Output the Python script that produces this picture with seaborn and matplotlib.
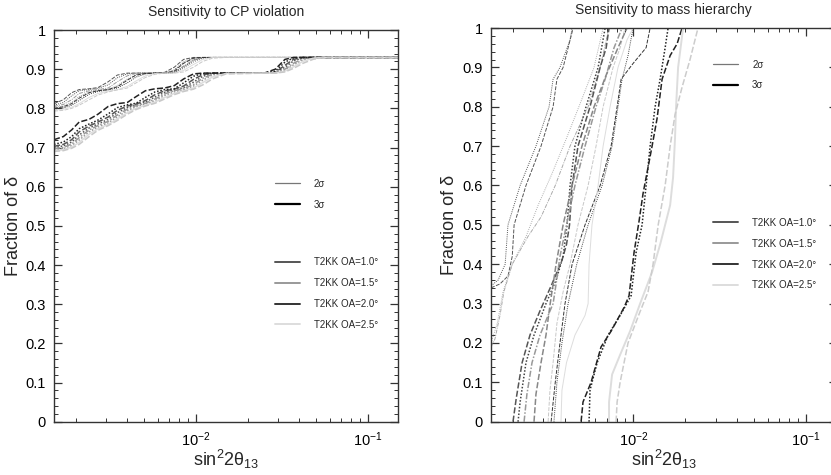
import matplotlib
matplotlib.use("Agg")
import matplotlib.pyplot as plt
import seaborn as sns
from matplotlib.lines import Line2D
from matplotlib.ticker import MultipleLocator, LogLocator, NullFormatter

# ---------------- data ----------------
oa_labels = ["T2KK OA=1.0\u00b0", "T2KK OA=1.5\u00b0", "T2KK OA=2.0\u00b0", "T2KK OA=2.5\u00b0"]
oa_colors = ["#555555", "#999999", "#333333", "#dddddd"]
sigma_labels = ["2\u03c3", "3\u03c3"]

# CP violation panel: shared sin^2 2theta13 grid
cp_x = [0.0015, 0.0017, 0.0019, 0.0021, 0.0024, 0.0027, 0.0031, 0.0035, 0.0040,
        0.0045, 0.0051, 0.0058, 0.0066, 0.0075, 0.0085, 0.0097, 0.011, 0.0125,
        0.015, 0.025, 0.029, 0.033, 0.037, 0.042, 0.048, 0.055, 0.15]

# 2 sigma curves (upper band)
cp_2s_oa10_a = [.812, .822, .840, .848, .850, .853, .868, .885, .890, .890, .890, .890, .892, .905,
                .925, .930, .930, .930, .930, .930, .930, .930, .930, .930, .930, .930, .930]
cp_2s_oa10_b = [.808, .815, .832, .845, .848, .851, .860, .878, .888, .890, .890, .890, .890, .898,
                .918, .929, .930, .930, .930, .930, .930, .930, .930, .930, .930, .930, .930]
cp_2s_oa15_a = [.805, .810, .822, .838, .845, .848, .852, .868, .883, .889, .890, .890, .890, .893,
                .908, .924, .930, .930, .930, .930, .930, .930, .930, .930, .930, .930, .930]
cp_2s_oa15_b = [.802, .806, .815, .830, .842, .846, .849, .858, .875, .886, .890, .890, .890, .891,
                .902, .918, .928, .930, .930, .930, .930, .930, .930, .930, .930, .930, .930]
cp_2s_oa20_a = [.800, .804, .812, .826, .840, .845, .848, .855, .872, .885, .889, .890, .890, .895,
                .915, .928, .930, .930, .930, .930, .930, .930, .930, .930, .930, .930, .930]
cp_2s_oa20_b = [.798, .801, .808, .820, .836, .843, .847, .852, .865, .880, .888, .890, .890, .892,
                .905, .922, .929, .930, .930, .930, .930, .930, .930, .930, .930, .930, .930]
cp_2s_oa25_a = [.795, .798, .803, .812, .828, .838, .844, .848, .856, .870, .883, .889, .890, .890,
                .897, .912, .925, .930, .930, .930, .930, .930, .930, .930, .930, .930, .930]
cp_2s_oa25_b = [.793, .795, .800, .808, .822, .834, .842, .847, .852, .865, .879, .887, .890, .890,
                .893, .905, .920, .928, .930, .930, .930, .930, .930, .930, .930, .930, .930]

# 3 sigma curves (lower band)
cp_3s_oa20_a = [.720, .728, .745, .765, .772, .785, .805, .812, .815, .830, .845, .850, .852, .858,
                .875, .888, .890, .890, .890, .890, .900, .925, .930, .930, .930, .930, .930]
cp_3s_oa20_b = [.708, .714, .728, .748, .760, .770, .786, .802, .809, .813, .828, .842, .848, .850,
                .865, .882, .889, .890, .890, .890, .895, .918, .929, .930, .930, .930, .930]
cp_3s_oa10_a = [.703, .708, .720, .740, .755, .765, .778, .795, .806, .811, .820, .835, .845, .849,
                .857, .874, .886, .890, .890, .890, .892, .910, .925, .930, .930, .930, .930]
cp_3s_oa10_b = [.700, .704, .714, .732, .750, .760, .772, .789, .802, .809, .816, .829, .841, .847,
                .853, .867, .882, .889, .890, .890, .891, .905, .921, .929, .930, .930, .930]
cp_3s_oa15_a = [.697, .700, .709, .725, .745, .756, .767, .783, .798, .807, .813, .824, .837, .845,
                .850, .861, .877, .887, .890, .890, .890, .900, .915, .927, .930, .930, .930]
cp_3s_oa15_b = [.694, .697, .705, .719, .740, .752, .763, .778, .794, .804, .811, .820, .833, .842,
                .848, .857, .872, .885, .890, .890, .890, .897, .911, .924, .929, .930, .930]
cp_3s_oa25_a = [.692, .694, .701, .713, .734, .748, .759, .773, .789, .800, .808, .816, .828, .838,
                .845, .852, .866, .880, .889, .890, .890, .895, .906, .920, .928, .930, .930]
cp_3s_oa25_b = [.690, .692, .698, .708, .728, .744, .756, .769, .785, .797, .806, .813, .824, .835,
                .843, .849, .860, .875, .888, .890, .890, .893, .902, .915, .925, .930, .930]

# mass hierarchy panel: each curve has its own (x, fraction) points
mh_2s_oa10_a_x = [0.00150, 0.00169, 0.00188, 0.00199, 0.00204, 0.00239, 0.00292, 0.00343, 0.00361, 0.00392, 0.00448]
mh_2s_oa10_a_y = [0.34, 0.35, 0.37, 0.42, 0.50, 0.60, 0.70, 0.80, 0.87, 0.90, 1.00]
mh_2s_oa10_b_x = [0.00150, 0.00165, 0.00181, 0.00188, 0.00221, 0.00273, 0.00325, 0.00343, 0.00376, 0.00430, 0.00442]
mh_2s_oa10_b_y = [0.345, 0.36, 0.40, 0.50, 0.60, 0.70, 0.80, 0.87, 0.90, 0.97, 1.00]
mh_2s_oa15_a_x = [0.00150, 0.00158, 0.00169, 0.00178, 0.00199, 0.00245, 0.00292, 0.00353, 0.00430, 0.00547, 0.00642, 0.00723]
mh_2s_oa15_a_y = [0.19, 0.21, 0.27, 0.33, 0.40, 0.47, 0.52, 0.60, 0.70, 0.80, 0.90, 1.00]
mh_2s_oa15_b_x = [0.00150, 0.00163, 0.00176, 0.00199, 0.00239, 0.00281, 0.00338, 0.00410, 0.00504, 0.00592, 0.00668]
mh_2s_oa15_b_y = [0.20, 0.25, 0.33, 0.40, 0.47, 0.55, 0.63, 0.72, 0.82, 0.90, 1.00]
mh_2s_oa20_a_x = [0.00334, 0.00353, 0.00376, 0.00402, 0.00442, 0.00525, 0.00642, 0.00743, 0.00805, 0.00849, 0.00996, 0.01185, 0.01250]
mh_2s_oa20_a_y = [0.00, 0.10, 0.20, 0.30, 0.40, 0.50, 0.60, 0.70, 0.80, 0.87, 0.91, 0.95, 1.00]
mh_2s_oa20_b_x = [0.00347, 0.00361, 0.00386, 0.00419, 0.00470, 0.00547, 0.00659, 0.00753, 0.00815, 0.00860, 0.00931, 0.00996]
mh_2s_oa20_b_y = [0.00, 0.10, 0.20, 0.30, 0.40, 0.50, 0.60, 0.70, 0.80, 0.87, 0.93, 1.00]
mh_2s_oa25_a_x = [0.00381, 0.00386, 0.00410, 0.00459, 0.00525, 0.00547, 0.00554, 0.00576, 0.00625, 0.00668, 0.00733, 0.00815, 0.00919, 0.00996]
mh_2s_oa25_a_y = [0.00, 0.08, 0.15, 0.22, 0.27, 0.30, 0.40, 0.50, 0.60, 0.70, 0.80, 0.90, 0.97, 1.00]
mh_2s_oa25_b_x = [0.00321, 0.00329, 0.00343, 0.00361, 0.00392, 0.00430, 0.00478, 0.00547, 0.00608, 0.00668, 0.00763, 0.00838, 0.00895]
mh_2s_oa25_b_y = [0.00, 0.08, 0.15, 0.25, 0.33, 0.40, 0.50, 0.60, 0.70, 0.80, 0.90, 0.95, 1.00]

mh_3s_oa10_a_x = [0.00201, 0.00210, 0.00227, 0.00252, 0.00287, 0.00338, 0.00386, 0.00410, 0.00427, 0.00442, 0.00478, 0.00561, 0.00642, 0.00696, 0.00723]
mh_3s_oa10_a_y = [0.00, 0.06, 0.15, 0.22, 0.28, 0.35, 0.41, 0.45, 0.50, 0.60, 0.70, 0.80, 0.90, 0.95, 1.00]
mh_3s_oa10_b_x = [0.00215, 0.00221, 0.00239, 0.00266, 0.00312, 0.00357, 0.00392, 0.00413, 0.00430, 0.00459, 0.00532, 0.00625, 0.00686]
mh_3s_oa10_b_y = [0.00, 0.05, 0.15, 0.22, 0.30, 0.36, 0.42, 0.50, 0.60, 0.70, 0.80, 0.90, 1.00]
mh_3s_oa15_a_x = [0.00233, 0.00242, 0.00259, 0.00288, 0.00321, 0.00343, 0.00357, 0.00376, 0.00410, 0.00459, 0.00525, 0.00608, 0.00686, 0.00773, 0.00860]
mh_3s_oa15_a_y = [0.00, 0.07, 0.15, 0.22, 0.27, 0.30, 0.35, 0.42, 0.50, 0.60, 0.70, 0.80, 0.87, 0.95, 1.00]
mh_3s_oa15_b_x = [0.00266, 0.00273, 0.00292, 0.00312, 0.00330, 0.00357, 0.00392, 0.00442, 0.00504, 0.00592, 0.00695, 0.00815, 0.00919]
mh_3s_oa15_b_y = [0.00, 0.07, 0.15, 0.22, 0.30, 0.40, 0.50, 0.60, 0.70, 0.80, 0.88, 0.95, 1.00]
mh_3s_oa20_a_x = [0.00498, 0.00511, 0.00569, 0.00650, 0.00743, 0.00883, 0.00944, 0.01009, 0.01079, 0.01138, 0.01283, 0.01371, 0.01466, 0.01632, 0.01791, 0.01914]
mh_3s_oa20_a_y = [0.00, 0.05, 0.10, 0.19, 0.23, 0.29, 0.32, 0.43, 0.51, 0.58, 0.70, 0.77, 0.87, 0.93, 0.96, 1.00]
mh_3s_oa20_b_x = [0.00554, 0.00561, 0.00617, 0.00714, 0.00838, 0.00970, 0.01037, 0.01123, 0.01185, 0.01250, 0.01336, 0.01428, 0.01527, 0.01588]
mh_3s_oa20_b_y = [0.00, 0.08, 0.15, 0.22, 0.27, 0.32, 0.43, 0.50, 0.60, 0.70, 0.80, 0.87, 0.95, 1.00]
mh_3s_oa25_a_x = [0.00723, 0.00723, 0.00753, 0.00838, 0.00957, 0.01094, 0.01283, 0.01428, 0.01527, 0.01632, 0.01697, 0.01742, 0.01766, 0.01815, 0.01940]
mh_3s_oa25_a_y = [0.00, 0.05, 0.12, 0.17, 0.23, 0.30, 0.38, 0.45, 0.50, 0.55, 0.62, 0.72, 0.80, 0.90, 1.00]
mh_3s_oa25_b_x = [0.00794, 0.00805, 0.00838, 0.00931, 0.01094, 0.01216, 0.01300, 0.01392, 0.01527, 0.01632, 0.01742, 0.01914, 0.02128, 0.02366]
mh_3s_oa25_b_y = [0.00, 0.05, 0.10, 0.20, 0.28, 0.33, 0.40, 0.50, 0.60, 0.70, 0.78, 0.85, 0.92, 1.00]

y_ticks = [0, 0.1, 0.2, 0.3, 0.4, 0.5, 0.6, 0.7, 0.8, 0.9, 1.0]
y_ticklabels = ["0", "0.1", "0.2", "0.3", "0.4", "0.5", "0.6", "0.7", "0.8", "0.9", "1"]

# ---------------- style ----------------
sns.set_style("ticks")
plt.rcParams["font.family"] = ["Liberation Sans", "DejaVu Sans"]
plt.rcParams["mathtext.fontset"] = "custom"
plt.rcParams["mathtext.rm"] = "Liberation Sans"
plt.rcParams["mathtext.it"] = "Liberation Sans"
plt.rcParams["mathtext.sf"] = "Liberation Sans"

thin, thick = 0.7, 1.1
dashed = (0, (4, 1.5))
dotted = (0, (1, 1.2))
dashdot = (0, (4, 1.2, 1, 1.2))

fig = plt.figure(figsize=(8.31, 4.75), dpi=100)
ax1 = fig.add_axes([0.065, 0.1122, 0.414, 0.8246])
ax2 = fig.add_axes([0.5909, 0.1122, 0.4158, 0.8288])

# CP violation curves
cp_curves = [
    (cp_2s_oa10_a, oa_colors[0], dashed, thin), (cp_2s_oa10_b, oa_colors[0], dotted, thin),
    (cp_2s_oa15_a, oa_colors[1], dashdot, thin), (cp_2s_oa15_b, oa_colors[1], dotted, thin),
    (cp_2s_oa20_a, oa_colors[2], dashed, thin), (cp_2s_oa20_b, oa_colors[2], dotted, thin),
    (cp_2s_oa25_a, oa_colors[3], "-", thin), (cp_2s_oa25_b, "#c8c8c8", dashed, thin),
    (cp_3s_oa10_a, oa_colors[0], dashed, thick), (cp_3s_oa10_b, oa_colors[0], dotted, thick),
    (cp_3s_oa15_a, oa_colors[1], dashdot, thick), (cp_3s_oa15_b, oa_colors[1], dotted, thick),
    (cp_3s_oa20_a, "#222222", dashed, thick), (cp_3s_oa20_b, "#222222", dotted, thick),
    (cp_3s_oa25_a, oa_colors[3], "-", thick), (cp_3s_oa25_b, "#c8c8c8", dashed, thick),
]
for ys, col, ls, lw in cp_curves:
    sns.lineplot(x=cp_x, y=ys, ax=ax1, color=col, linestyle=ls, linewidth=lw,
                 sort=False, estimator=None)

# mass hierarchy curves
mh_curves = [
    (mh_2s_oa10_a_x, mh_2s_oa10_a_y, oa_colors[0], dashed, thin),
    (mh_2s_oa10_b_x, mh_2s_oa10_b_y, oa_colors[0], dotted, thin),
    (mh_2s_oa15_a_x, mh_2s_oa15_a_y, "#aaaaaa", dashdot, thin),
    (mh_2s_oa15_b_x, mh_2s_oa15_b_y, "#b0b0b0", dotted, thin),
    (mh_2s_oa20_a_x, mh_2s_oa20_a_y, oa_colors[2], dashed, thin),
    (mh_2s_oa20_b_x, mh_2s_oa20_b_y, "#444444", dotted, thin),
    (mh_2s_oa25_a_x, mh_2s_oa25_a_y, oa_colors[3], "-", thin),
    (mh_2s_oa25_b_x, mh_2s_oa25_b_y, "#c8c8c8", dashed, thin),
    (mh_3s_oa10_a_x, mh_3s_oa10_a_y, oa_colors[0], dashed, thick),
    (mh_3s_oa10_b_x, mh_3s_oa10_b_y, "#444444", dotted, thick),
    (mh_3s_oa15_a_x, mh_3s_oa15_a_y, oa_colors[1], dashdot, thick),
    (mh_3s_oa15_b_x, mh_3s_oa15_b_y, "#888888", dashed, thick),
    (mh_3s_oa20_a_x, mh_3s_oa20_a_y, "#222222", dashed, thick),
    (mh_3s_oa20_b_x, mh_3s_oa20_b_y, "#222222", dotted, thick),
    (mh_3s_oa25_a_x, mh_3s_oa25_a_y, oa_colors[3], "-", 1.4),
    (mh_3s_oa25_b_x, mh_3s_oa25_b_y, "#cccccc", dashed, thick),
]
for xs, ys, col, ls, lw in mh_curves:
    sns.lineplot(x=xs, y=ys, ax=ax2, color=col, linestyle=ls, linewidth=lw,
                 sort=False, estimator=None)

# axes formatting
titles = ["Sensitivity to CP violation", "Sensitivity to mass hierarchy"]
for ax, title, ylab_x in [(ax1, titles[0], -0.093), (ax2, titles[1], -0.095)]:
    ax.set_xscale("log")
    ax.set_xlim(0.0015, 0.15)
    ax.set_ylim(0, 1)
    ax.set_yticks(y_ticks)
    ax.set_yticklabels(y_ticklabels)
    ax.yaxis.set_minor_locator(MultipleLocator(0.02))
    ax.xaxis.set_major_locator(LogLocator(base=10))
    ax.xaxis.set_minor_locator(LogLocator(base=10, subs=[2, 3, 4, 5, 6, 7, 8, 9]))
    ax.xaxis.set_minor_formatter(NullFormatter())
    ax.tick_params(which="both", direction="in", top=True, right=True, colors="#333333",
                   labelcolor="black")
    ax.tick_params(which="major", length=6, width=0.9, labelsize=10.5)
    ax.tick_params(axis="y", which="major", pad=6)
    ax.tick_params(axis="x", which="major", pad=6)
    ax.tick_params(which="minor", length=3, width=0.7)
    for sp in ax.spines.values():
        sp.set_color("#333333")
        sp.set_linewidth(1.0)
    ax.set_title(title, fontsize=10, pad=10)
    ax.set_ylabel("Fraction of \u03b4", fontsize=13)
    ax.yaxis.set_label_coords(ylab_x, 0.5)
    ax.set_xlabel("sin$^2$2\u03b8$_{13}$", fontsize=13)
    ax.xaxis.set_label_coords(0.5, -0.067)

# legends
sigma_handles = [Line2D([], [], color="#777777", lw=0.9), Line2D([], [], color="black", lw=1.6)]
oa_handles = [Line2D([], [], color=c, lw=1.4) for c in oa_colors]
leg_kw = dict(frameon=False, fontsize=7, handlelength=2.6, handletextpad=1.4,
              labelspacing=1.12, borderpad=0, borderaxespad=0, loc="upper left")

l1 = ax1.legend(sigma_handles, sigma_labels, bbox_to_anchor=(0.642, 0.62), **leg_kw)
ax1.add_artist(l1)
ax1.legend(oa_handles, oa_labels, bbox_to_anchor=(0.642, 0.42), **leg_kw)

l2 = ax2.legend(sigma_handles, sigma_labels, bbox_to_anchor=(0.643, 0.92), **leg_kw)
ax2.add_artist(l2)
ax2.legend(oa_handles, oa_labels, bbox_to_anchor=(0.643, 0.518), **leg_kw)

fig.savefig("out.png", dpi=100)
